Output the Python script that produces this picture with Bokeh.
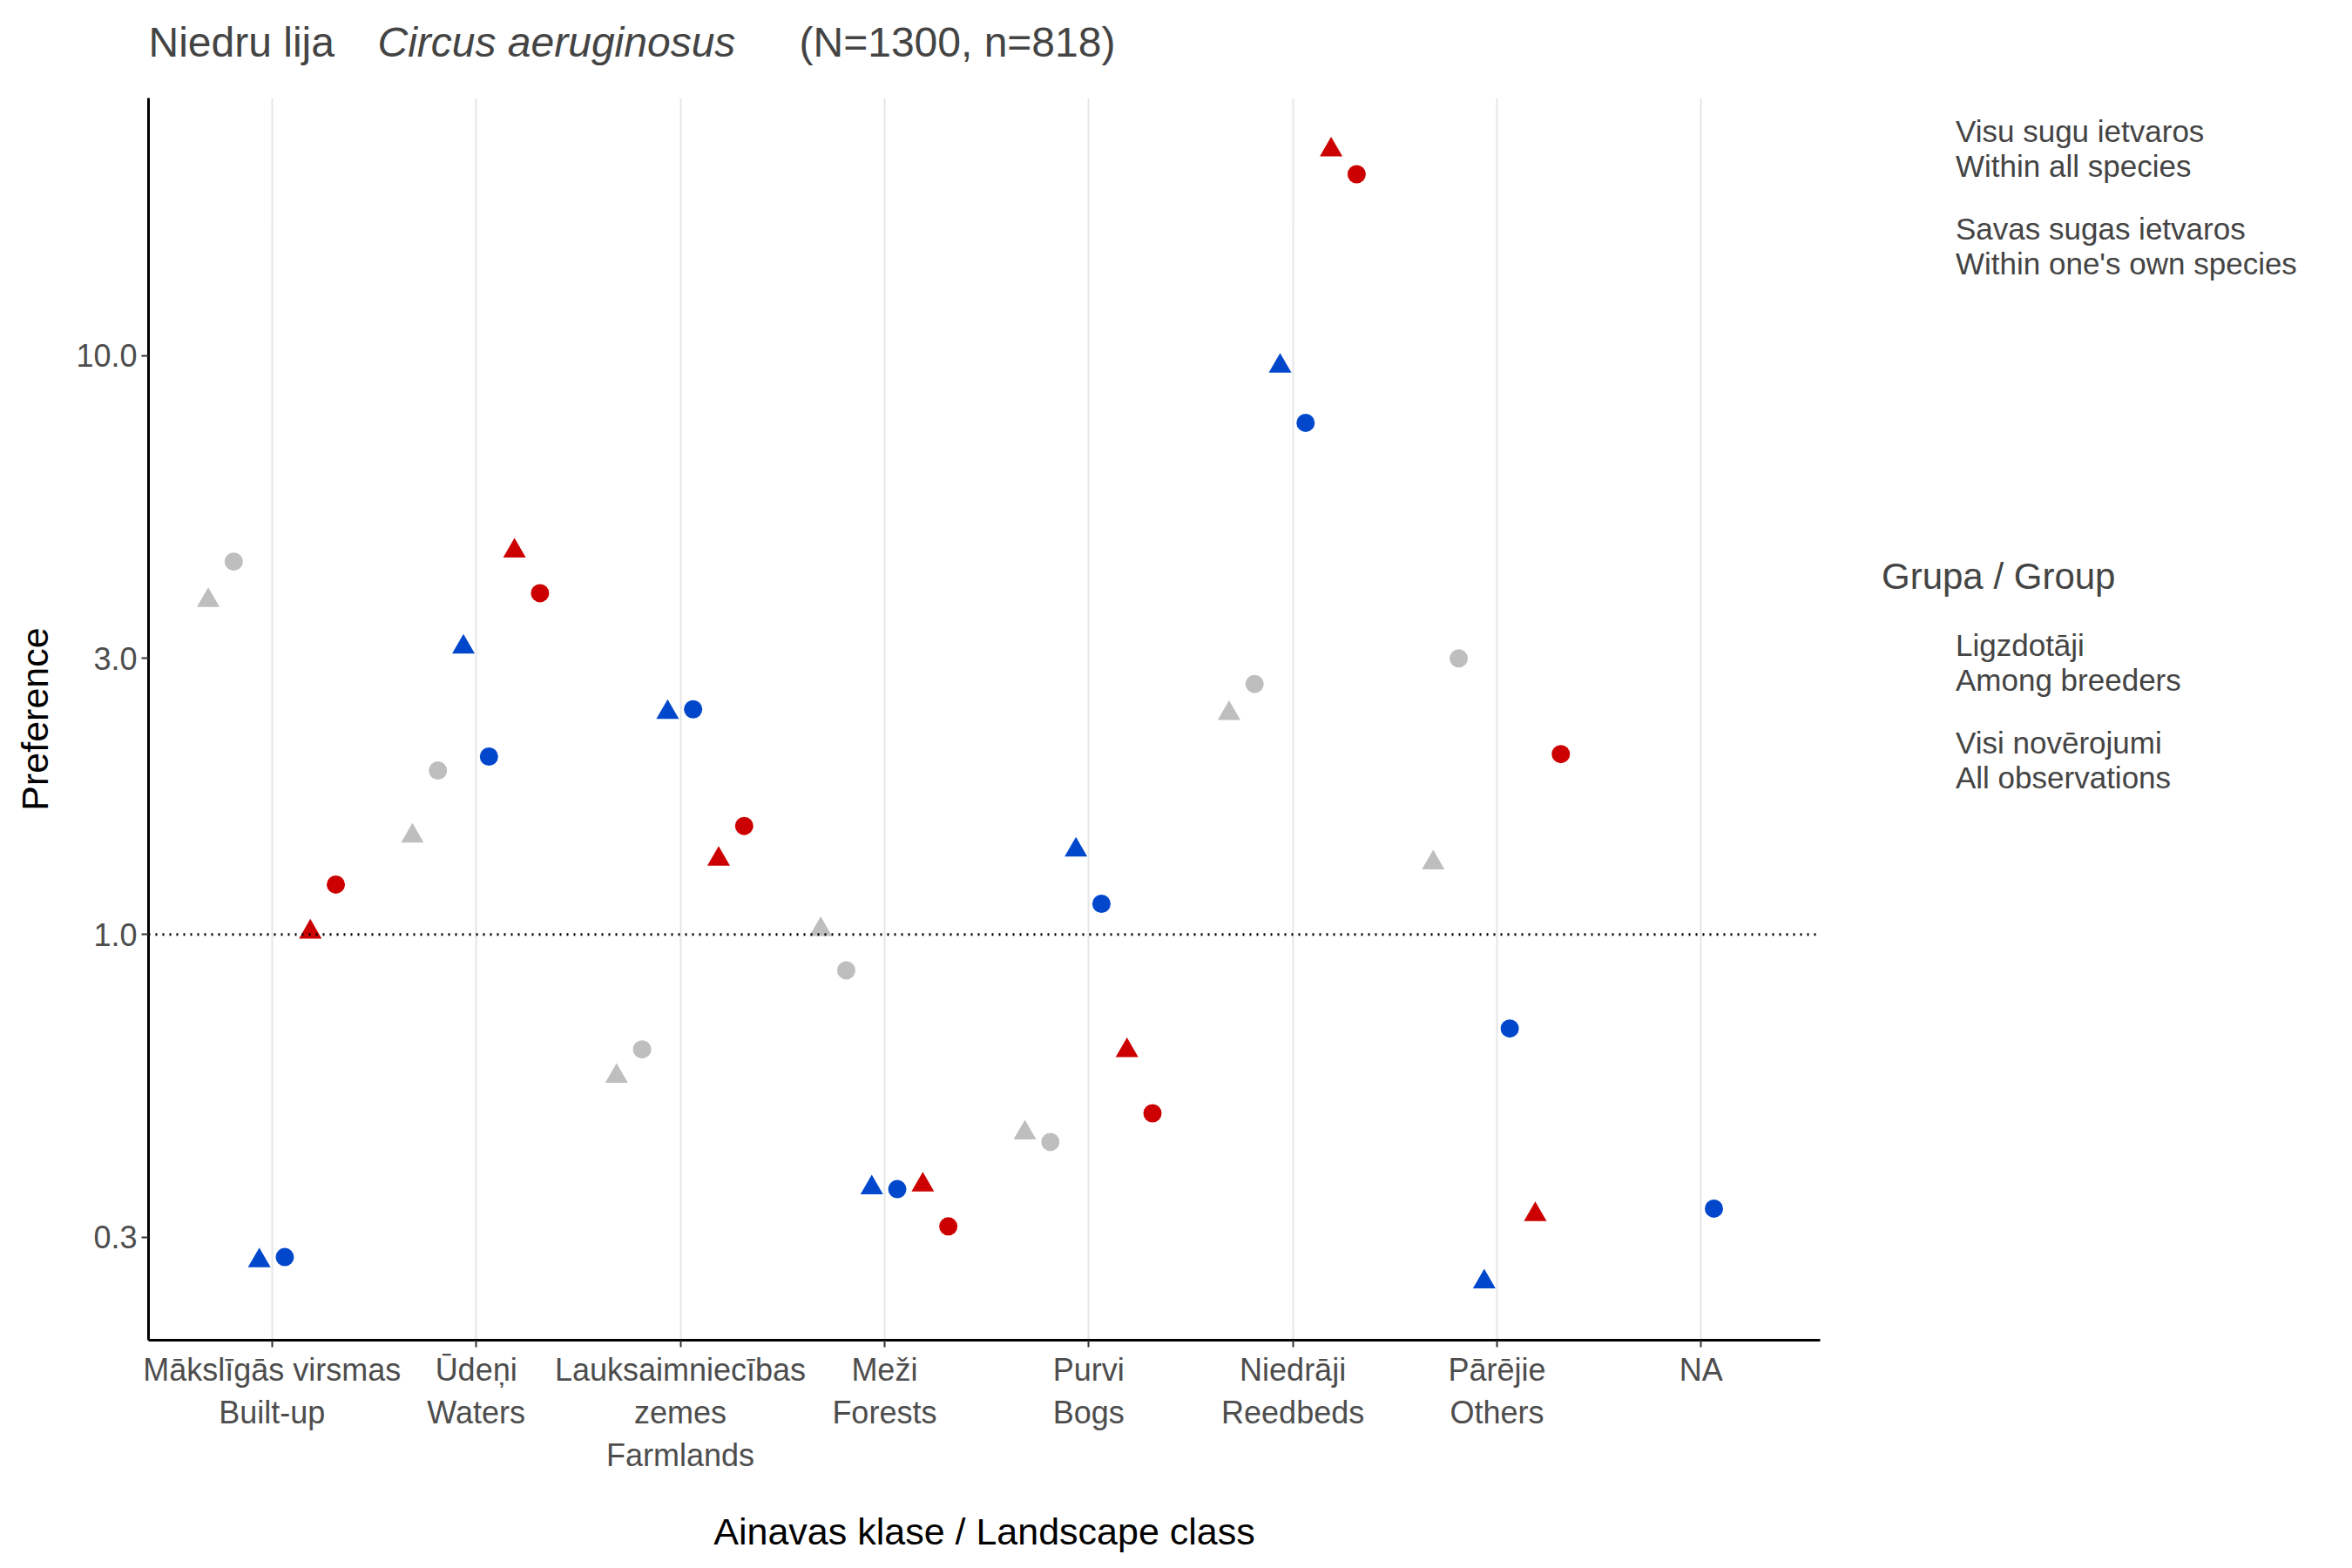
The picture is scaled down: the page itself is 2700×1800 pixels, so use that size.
import numpy as np
from bokeh.plotting import figure
from bokeh.layouts import column, row
from bokeh.models import Span, Label, Legend, LegendItem, FixedTicker, Range1d
from bokeh.embed import file_html
from bokeh.resources import INLINE

categories = ["Mākslīgās virsmas\nBuilt-up", "Ūdeņi\nWaters", "Lauksaimniecības\nzemes\nFarmlands",
              "Meži\nForests", "Purvi\nBogs", "Niedrāji\nReedbeds", "Pārējie\nOthers", "NA"]
nan = float("nan")
# order: all bird sightings, within all species, within own species; breeders (triangle) / all (circle)
gray_breed = [3.78, 1.48, 0.569, 1.02, 0.454, 2.41, 1.33, nan]
gray_all = [4.41, 1.92, 0.633, 0.867, 0.438, 2.71, 3.0, nan]
blue_breed = [0.273, 3.14, 2.42, 0.365, 1.40, 9.6, 0.251, nan]
blue_all = [0.277, 2.03, 2.45, 0.363, 1.13, 7.66, 0.688, 0.336]
red_breed = [1.01, 4.6, 1.35, 0.369, 0.63, 22.7, 0.328, nan]
red_all = [1.22, 3.89, 1.54, 0.313, 0.491, 20.6, 2.05, nan]

GRAY, BLUE, RED = "#BEBEBE", "#0047CC", "#CC0000"
FONT = "Liberation Sans"

ylo, yhi = 0.199, 27.9
p = figure(width=2100, height=1684, output_backend="svg", toolbar_location=None,
           y_axis_type="log", x_range=Range1d(-0.605, 7.583), y_range=Range1d(ylo, yhi),
           min_border_left=170, min_border_right=11, min_border_top=12, min_border_bottom=230)
p.outline_line_color = None
p.ygrid.grid_line_color = None
p.xgrid.grid_line_color = "#E6E6E6"
p.xgrid.grid_line_width = 2
p.xaxis.ticker = FixedTicker(ticks=list(range(8)))
p.xaxis.major_label_overrides = {i: c for i, c in enumerate(categories)}
p.yaxis.ticker = FixedTicker(ticks=[0.3, 1.0, 3.0, 10.0])
p.yaxis.major_label_overrides = {0.3: "0.3", 1.0: "1.0", 3.0: "3.0", 10.0: "10.0"}
p.yaxis.minor_tick_line_color = None
for ax in (p.xaxis, p.yaxis):
    ax.axis_line_width = 3
    ax.axis_line_color = "black"
    ax.major_tick_line_color = "#333333"
    ax.major_tick_line_width = 2
    ax.major_tick_in = 0
    ax.major_tick_out = 8
    ax.major_label_text_font = FONT
    ax.major_label_text_font_size = "36px"
    ax.major_label_text_color = "#4D4D4D"
    ax.axis_label_text_font = FONT
    ax.axis_label_text_font_size = "43px"
    ax.axis_label_text_font_style = "normal"
    ax.axis_label_text_color = "black"
p.xaxis.axis_label = "Ainavas klase / Landscape class"
p.yaxis.axis_label = "Preference"
p.xaxis.axis_label_standoff = 40
p.yaxis.axis_label_standoff = 20

p.add_layout(Span(location=1.0, dimension="width", line_color="black",
                  line_dash="2 6", line_width=3))

x = np.arange(8)
step = 0.125
series = [(gray_breed, GRAY, "triangle"), (gray_all, GRAY, "circle"),
          (blue_breed, BLUE, "triangle"), (blue_all, BLUE, "circle"),
          (red_breed, RED, "triangle"), (red_all, RED, "circle")]
for k, (vals, col, mk) in enumerate(series):
    p.scatter(x + (k - 2.5) * step, vals, marker=mk, color=col,
              size=26 if mk == "triangle" else 21, line_width=0)

# title row with italic species name
t = figure(width=2684, height=100, output_backend="svg", toolbar_location=None,
           x_range=Range1d(0, 2684), y_range=Range1d(0, 100), min_border=0)
t.axis.visible = False
t.grid.visible = False
t.outline_line_color = None
for txt, tx, style in [("Niedru lija", 170, "normal"), ("Circus aeruginosus", 433, "italic"),
                       ("(N=1300, n=818)", 917, "normal")]:
    t.add_layout(Label(x=tx, y=52, text=txt, text_font=FONT, text_font_size="48px",
                       text_font_style=style, text_baseline="middle"))

# legend panel
lf = figure(width=584, height=1684, output_backend="svg", toolbar_location=None,
            x_range=Range1d(0, 1), y_range=Range1d(0, 1), min_border=0)
lf.axis.visible = False
lf.grid.visible = False
lf.outline_line_color = None
r_g = lf.scatter([], [], marker="circle", color=GRAY, size=21)
r_b = lf.scatter([], [], marker="circle", color=BLUE, size=21)
r_r = lf.scatter([], [], marker="circle", color=RED, size=21)
r_t = lf.scatter([], [], marker="triangle", color="black", size=24)
r_c = lf.scatter([], [], marker="circle", color="black", size=21)

def mklegend(items, title, loc):
    lg = Legend(items=items, title=title, location=loc, border_line_color=None,
                background_fill_alpha=0, label_text_font=FONT, label_text_font_size="35px",
                title_text_font=FONT, title_text_font_size="42px", title_text_font_style="normal",
                label_height=90, glyph_height=40, glyph_width=40, spacing=22, padding=0,
                title_standoff=30, label_standoff=45, margin=0)
    lf.add_layout(lg, "center")

mklegend([LegendItem(label="Visi putnu novērojumi\nAll bird sightings", renderers=[r_g]),
          LegendItem(label="Visu sugu ietvaros\nWithin all species", renderers=[r_b]),
          LegendItem(label="Savas sugas ietvaros\nWithin one's own species", renderers=[r_r])],
         "Preference", (60, 1210))
mklegend([LegendItem(label="Ligzdotāji\nAmong breeders", renderers=[r_t]),
          LegendItem(label="Visi novērojumi\nAll observations", renderers=[r_c])],
         "Grupa / Group", (60, 620))

page = column(t, row(p, lf))
open("out.html", "w").write(file_html(page, INLINE))
